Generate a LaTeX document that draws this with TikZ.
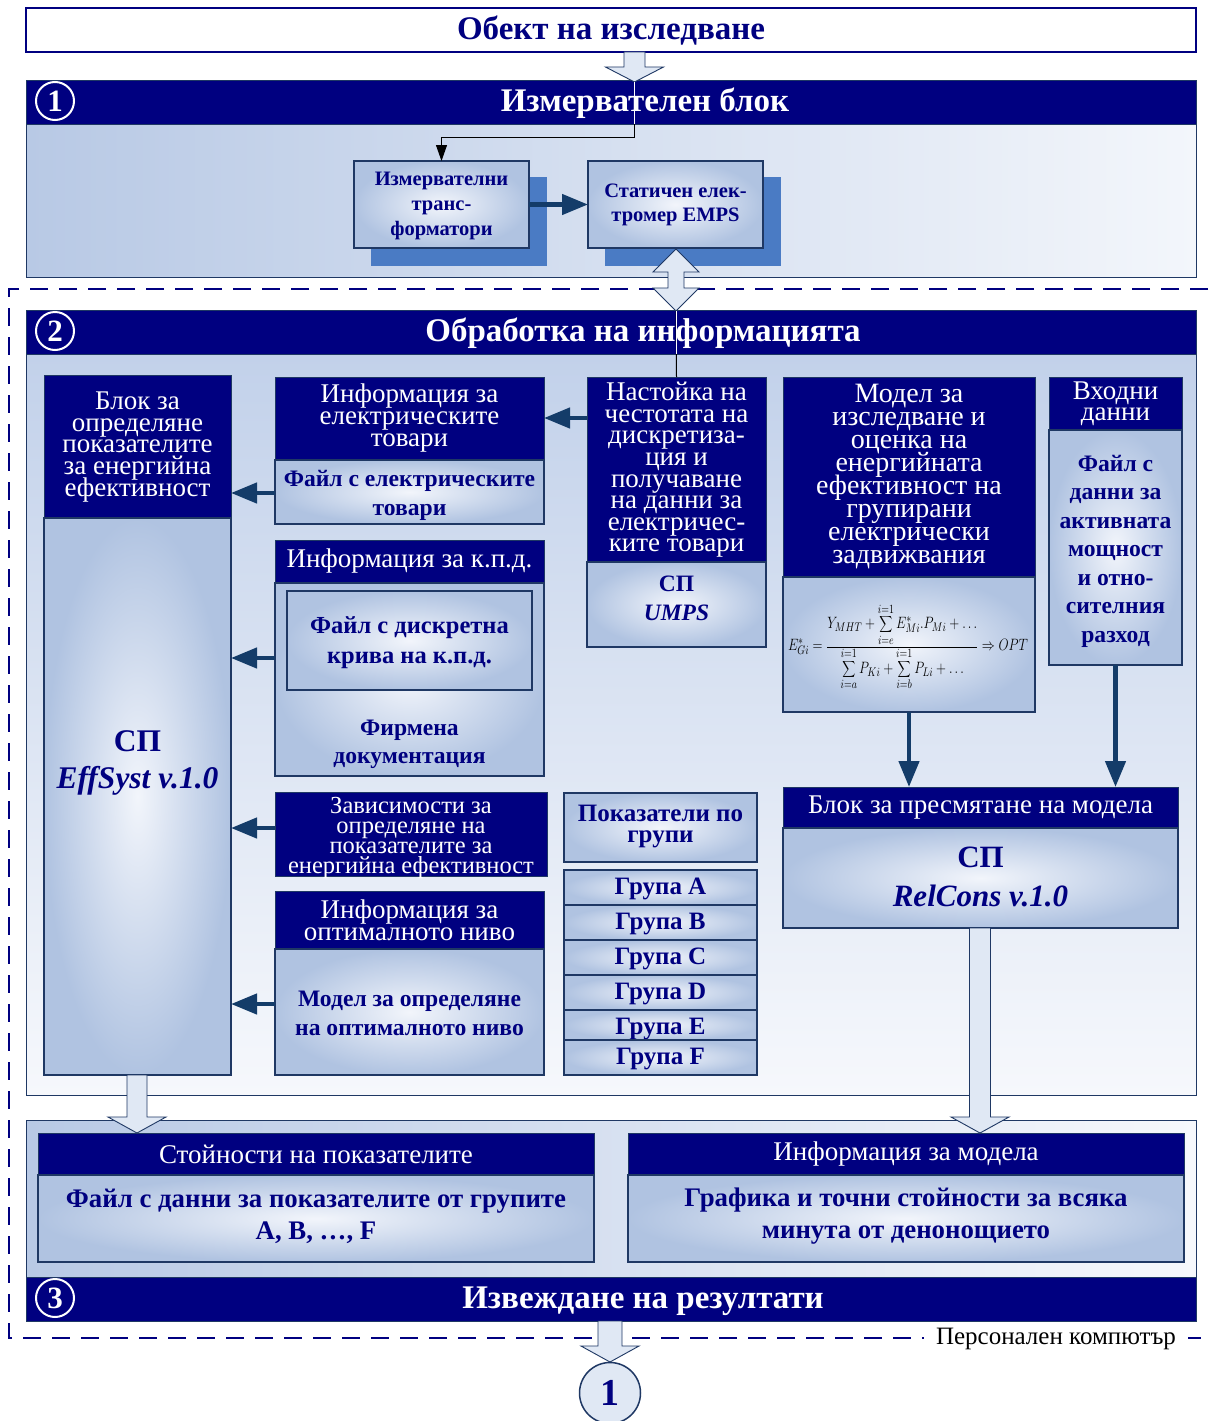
\documentclass[tikz,border=0pt]{standalone}
\usepackage{graphicx}
\usepackage{fontspec}
\setmainfont{Liberation Serif}
\usetikzlibrary{arrows.meta,calc}
\definecolor{navy}{HTML}{000080}
\definecolor{bord}{HTML}{1F3864}
\definecolor{arr}{HTML}{143C69}
\definecolor{shad}{HTML}{4A7BC4}
\definecolor{bodyout}{HTML}{B0C3E1}
\definecolor{bodyin}{HTML}{F2F5FB}
\definecolor{hollow}{HTML}{E0E8F4}
\definecolor{secA}{HTML}{B8C9E5}
\definecolor{secB}{HTML}{F3F6FB}
\definecolor{secC}{HTML}{C2D1EA}
\definecolor{secD}{HTML}{F6F8FC}
\lineskiplimit=-100pt
\newcommand\fs[2]{\fontsize{#1}{#2}\selectfont}
\newcommand\bx[6]{\node[#2, minimum width={#5-#3}, minimum height={#6-#4}] (#1) at (#3,#4) {};}
\newcommand\hdown[6]{\draw[hollowst] (#1-#4,#2) -- (#1-#4,#3-#6) -- (#1-#5,#3-#6) -- (#1,#3) -- (#1+#5,#3-#6) -- (#1+#4,#3-#6) -- (#1+#4,#2) -- cycle;}
\begin{document}
\begin{tikzpicture}[x=1pt,y=-1pt,
  hd/.style={fill=navy, draw=bord, line width=0.8pt, anchor=north west, inner sep=0pt, outer sep=0pt},
  bd/.style={draw=bord, line width=1.2pt, inner color=bodyin, outer color=bodyout, anchor=north west, inner sep=0pt, outer sep=0pt},
  sec/.style={draw=bord, line width=0.8pt, anchor=north west, inner sep=0pt, outer sep=0pt},
  htxt/.style={text=white, align=center, inner sep=0pt, font=\fs{27}{21.6}},
  btxt/.style={text=navy, align=center, inner sep=0pt, font=\bfseries\fs{24}{29}},
  sectxt/.style={text=white, inner sep=0pt, font=\bfseries\fs{33}{33}},
  numc/.style={circle, draw=white, line width=2pt, minimum size=38pt, inner sep=0pt, text=white, font=\bfseries\fs{31}{31}},
  fat/.style={draw=arr, line width=4.5pt, -{Triangle[length=26pt,width=20pt]}},
  thinarr/.style={draw=black, line width=1pt, -{Triangle[length=16pt,width=11pt]}},
  hollowst/.style={draw=bord, line width=0.9pt, fill=hollow, line join=miter},
  grp/.style={text=navy, inner sep=0pt, font=\bfseries\fs{25}{25}}
]
\useasboundingbox (0,0) rectangle (1208,1421);
\fill[white] (0,0) rectangle (1208,1421);

% ---------- object ----------
\bx{obj}{sec, fill=white, draw=navy, line width=2pt}{26}{8}{1196}{52}
\node[text=navy, inner sep=0pt, font=\bfseries\fs{33}{33}] (objt) at (611,31) {Обект на изследване};

% ---------- dashed PC frame ----------
\draw[navy, line width=2.5pt, dash pattern=on 18pt off 11pt] (1208,289) -- (9,289) -- (9,1338) -- (1208,1338);
\node[fill=white, inner xsep=12pt, inner ysep=3pt, font=\fs{25}{25}] (pc) at (1056,1339) {Персонален компютър};

% ---------- section 1 ----------
\bx{s1b}{sec, left color=secA, right color=secB}{26}{124}{1196}{277}
\bx{s1h}{hd}{26}{80}{1196}{124}
\node[sectxt] (s1t) at (645,103) {Измервателен блок};
\node[numc] (n1) at (55,101) {1};

\bx{sh1}{sec, fill=shad, draw=none}{371}{177}{547}{266}
\bx{sh2}{sec, fill=shad, draw=none}{605}{177}{781}{266}
\bx{mt}{bd}{354}{161}{529}{248}
\bx{emps}{bd}{588}{161}{763}{248}
\node[btxt, font=\bfseries\fs{20.5}{25}] (mtt) at (441.5,206) {Измервателни\\транс-\\форматори};
\node[btxt, font=\bfseries\fs{20.5}{24}] (empst) at (675.5,205) {Статичен елек-\\тромер EMPS};
\draw[fat] (mt.east) -- (emps.west);

% ---------- section 2 ----------
\bx{s2b}{sec, top color=secC, bottom color=secD}{26}{354}{1196}{1095}
\bx{s2h}{hd}{26}{310}{1196}{354}
\node[sectxt] (s2t) at (643,333) {Обработка на информацията};
\node[numc] (n2) at (55,331) {2};

% left column
\bx{lch}{hd}{44}{375}{231}{518}
\bx{lcb}{bd}{44}{518}{231}{1075}
\node[htxt, font=\fs{27}{21.8}] (lcht) at (137.5,447) {Блок за\\определяне\\показателите\\за енергийна\\ефективност};
\node[btxt, font=\bfseries\fs{31.5}{37}] (lcbt) at (137.5,763) {СП\\\itshape EffSyst v.1.0};

% info el. tovari
\bx{ieh}{hd}{275}{377}{544}{460}
\bx{ieb}{bd}{275}{460}{544}{524}
\node[htxt] (ieht) at (409.5,418) {Информация за\\електрическите\\товари};
\node[btxt, font=\bfseries\fs{23.6}{29}] (iebt) at (409.5,495) {Файл с електрическите\\товари};

% kpd
\bx{kh}{hd}{275}{540}{544}{583}
\bx{kb}{bd}{275}{583}{544}{776}
\bx{ki}{bd}{287}{591}{532}{690}
\node[htxt] (kht) at (409.5,561) {Информация за к.п.д.};
\node[btxt, font=\bfseries\fs{24.5}{30}] (kit) at (409.5,643) {Файл с дискретна\\крива на к.п.д.};
\node[btxt, font=\bfseries\fs{23.6}{28}] (kbt) at (409.5,744) {Фирмена\\документация};

% zavisimosti
\bx{zav}{hd}{275}{792}{547}{876}
\node[htxt, font=\fs{24.5}{20}] (zavt) at (411,838) {Зависимости за\\определяне на\\показателите за\\енергийна ефективност};

% optimal
\bx{oh}{hd}{275}{891}{544}{949}
\bx{ob}{bd}{275}{949}{544}{1075}
\node[htxt] (oht) at (409.5,920) {Информация за\\оптималното ниво};
\node[btxt, font=\bfseries\fs{23.6}{29}] (obt) at (409.5,1013) {Модел за определяне\\на оптималното ниво};

% groups
\bx{pg}{bd}{564}{793}{757}{862}
\node[btxt, font=\bfseries\fs{25}{21}] (pgt) at (660.5,827) {Показатели по\\групи};
\bx{gA}{bd}{564}{870}{757}{905}
\bx{gB}{bd}{564}{905}{757}{940}
\bx{gC}{bd}{564}{940}{757}{975}
\bx{gD}{bd}{564}{975}{757}{1010}
\bx{gE}{bd}{564}{1010}{757}{1040}
\node[grp] (gAt) at (660.5,889) {Група A};
\node[grp] (gBt) at (660.5,924) {Група B};
\node[grp] (gCt) at (660.5,959) {Група C};
\node[grp] (gDt) at (660.5,994) {Група D};
\node[grp] (gEt) at (660.5,1029) {Група E};
\bx{gF}{bd}{564}{1040}{757}{1075}
\node[grp] (gFt) at (660.5,1059) {Група F};

% nastojka
\bx{nh}{hd}{587}{377}{766}{562}
\bx{nb}{bd}{587}{562}{766}{647}
\node[htxt] (nht) at (676.5,470) {Настойка на\\честотата на\\дискретиза-\\ция и\\получаване\\на данни за\\електричес-\\ките товари};
\node[btxt, font=\bfseries\fs{23.5}{29}] (nbt) at (676.5,598) {СП\\\itshape UMPS};

% model
\bx{mh}{hd}{783}{377}{1035}{577}
\bx{mb}{bd}{783}{577}{1035}{712}
\node[htxt, font=\fs{28}{23}] (mht) at (909,477) {Модел за\\изследване и\\оценка на\\енергийната\\ефективност на\\групирани\\електрически\\задвижвания};
\node[inner sep=0pt, font=\fs{15}{18}] (formula) at (908,647) {\resizebox*{240pt}{86pt}{$\displaystyle E^{*}_{Gi}=\frac{\displaystyle Y_{MHT}+\sum_{i=e}^{i=1}E^{*}_{Mi}.P_{Mi}+\ldots}{\displaystyle \sum_{i=a}^{i=1}P_{Ki}+\sum_{i=b}^{i=1}P_{Li}+\ldots}\Rightarrow OPT$}};

% vhodni
\bx{vh}{hd}{1049}{377}{1182}{430}
\bx{vb}{bd}{1049}{430}{1182}{665}
\node[htxt, font=\fs{27}{21}] (vht) at (1115.5,404) {Входни\\данни};
\node[btxt, font=\bfseries\fs{23.6}{28.5}] (vbt) at (1115.5,551) {Файл с\\данни за\\активната\\мощност\\и отно-\\сителния\\разход};

% calc block
\bx{ch}{hd}{783}{787}{1178}{828}
\bx{cb}{bd}{783}{828}{1178}{928}
\node[htxt] (cht) at (980.5,808) {Блок за пресмятане на модела};
\node[btxt, font=\bfseries\fs{31}{39}] (cbt) at (980.5,877) {СП\\\itshape RelCons v.1.0};

% arrows section 2
\draw[fat] (nh.west |- 0,418) -- (ieh.east |- 0,418);
\draw[fat] (ieb.west |- 0,493) -- (lch.east |- 0,493);
\draw[fat] (kb.west |- 0,658) -- (lcb.east |- 0,658);
\draw[fat] (zav.west |- 0,828) -- (lcb.east |- 0,828);
\draw[fat] (ob.west |- 0,1004) -- (lcb.east |- 0,1004);
\draw[fat] (mb.south) -- (ch.north -| mb.south);
\draw[fat] (vb.south) -- (ch.north -| vb.south);

% ---------- section 3 ----------
\bx{s3b}{sec, left color=secA, right color=secD}{26}{1120}{1196}{1277}
\bx{s3h}{hd}{26}{1277}{1196}{1321}
\node[sectxt] (s3t) at (643,1301) {Извеждане на резултати};
\node[numc] (n3) at (55,1298) {3};

\bx{sth}{hd}{38}{1133}{594}{1175}
\bx{stb}{bd}{38}{1175}{594}{1262}
\node[htxt] (stht) at (316,1154) {Стойности на показателите};
\node[btxt, font=\bfseries\fs{26.8}{32}] (stbt) at (316,1216) {Файл с данни за показателите от групите\\A, B, \ldots, F};
\bx{imh}{hd}{628}{1133}{1184}{1175}
\bx{imb}{bd}{628}{1175}{1184}{1262}
\node[htxt] (imht) at (906,1154) {Информация за модела};
\node[btxt, font=\bfseries\fs{26.8}{32}] (imbt) at (906,1216) {Графика и точни стойности за всяка\\минута от денонощието};

% ---------- hollow block arrows ----------
\hdown{634.5}{52}{82}{10.5}{29}{15}
\hdown{137}{1075}{1133}{10}{29}{16}
\hdown{980}{928}{1133}{10.5}{29}{16}
\hdown{610}{1321}{1362}{12}{29}{16}
% double arrow
\draw[hollowst] (676,249) -- (699,272) -- (684,272) -- (684,288) -- (699,288) -- (676,311) -- (653,288) -- (668,288) -- (668,272) -- (653,272) -- cycle;

\coordinate (tipA) at (634.5,82);
\coordinate (tipB) at (676,311);
\draw[thinarr] (tipA) |- (441.5,137) -- (mt.north);
\draw[white, line width=0.8pt] (tipA) -- (634.5,123.5);
\draw[black, line width=1pt] (tipB) -- (nh.north);
\draw[white, line width=0.8pt] (tipB) -- (676,353.5);

% output circle
\node[circle, draw=bord, fill=hollow, line width=1.5pt, minimum size=61pt, inner sep=0pt, text=navy, font=\bfseries\fs{38}{38}] (out1) at (610,1393) {1};
\end{tikzpicture}
\end{document}
